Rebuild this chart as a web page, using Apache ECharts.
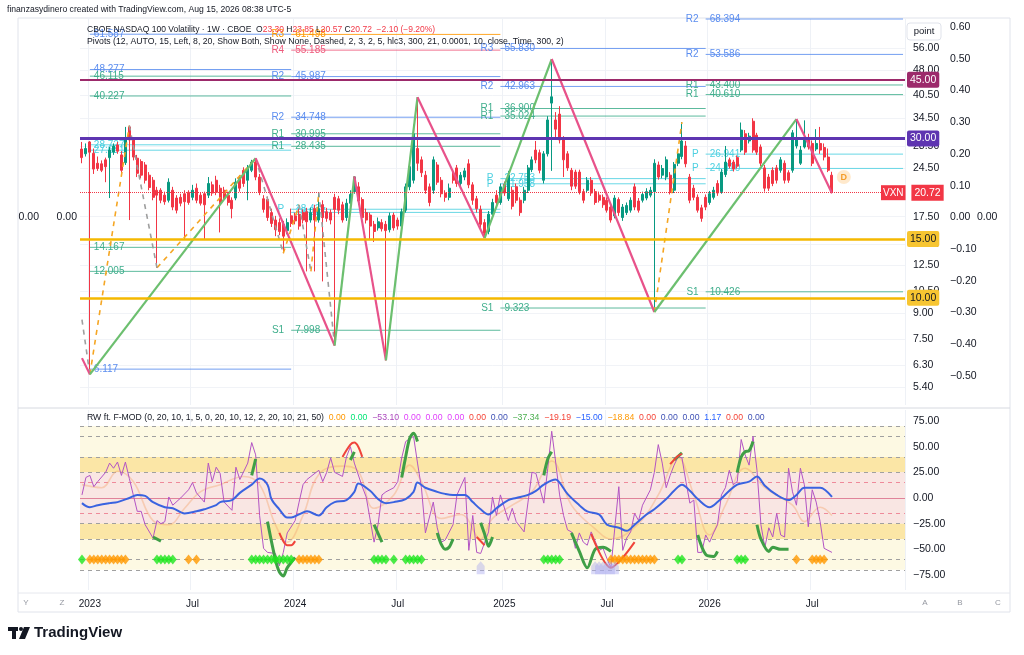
<!DOCTYPE html>
<html><head><meta charset="utf-8">
<script src="https://cdn.jsdelivr.net/npm/echarts@6/dist/echarts.min.js"></script>
<style>html,body{margin:0;padding:0;background:#fff}#c{width:1024px;height:655px}</style>
</head><body><div id="c"></div>
<script>
// ---------------- DATA ----------------
const startDate = [2022, 11, 19];   // first weekly bar (UTC y,m,d)
const totalSlots = 209;              // weekly slots visible on the time scale
// weekly candles: [open, high, low, close]
const weeklyOHLC = [
[27.9,29.3,25.3,26.3],[27.0,29.0,26.5,28.0],[29.3,29.5,5.9,27.3],[27.1,28.0,23.5,24.3],[25.3,26.5,24.0,24.4],
[25.2,25.8,23.8,24.1],[25.9,26.3,22.2,24.7],[26.3,28.3,19.9,27.7],[27.3,29.0,26.8,28.5],[28.7,29.3,27.0,27.5],
[26.8,27.5,23.5,24.1],[25.4,32.5,25.0,29.7],[32.5,32.8,17.1,29.7],[29.7,30.2,25.8,26.4],[26.2,26.8,23.0,23.6],
[25.6,26.0,22.8,23.3],[25.0,25.5,22.0,22.5],[23.3,23.8,21.0,21.4],[22.5,23.0,19.6,20.0],[21.0,21.5,12.3,20.3],
[21.0,21.3,19.2,19.6],[20.3,20.8,19.0,19.4],[19.6,22.8,19.3,22.2],[21.0,21.5,18.3,18.7],[19.9,20.3,17.9,18.3],
[20.0,20.5,18.8,19.2],[20.5,21.0,14.9,19.4],[20.7,21.0,19.0,19.3],[20.0,21.8,19.6,21.0],[21.3,22.0,19.2,19.6],
[20.3,20.6,18.9,19.2],[20.5,20.8,14.9,19.0],[20.3,23.0,19.9,22.0],[21.8,22.3,20.2,20.6],[22.5,23.2,20.3,20.7],
[21.3,21.8,15.7,19.3],[21.0,21.5,19.5,19.9],[20.3,20.8,18.9,19.3],[19.6,20.0,17.3,18.5],[19.9,22.8,19.6,22.2],
[22.8,23.3,20.8,21.3],[24.1,24.6,21.5,22.0],[22.5,25.0,19.6,24.4],[24.1,25.9,23.8,25.5],[25.5,26.2,22.5,23.0],
[23.0,23.5,20.3,20.8],[19.8,20.3,18.0,18.4],[19.7,20.1,17.0,17.4],[18.0,18.5,16.3,16.7],[17.1,17.6,15.3,16.0],
[16.8,17.3,15.4,15.8],[16.6,17.0,13.6,15.3],[15.9,17.3,15.5,16.8],[17.6,18.5,16.3,16.7],[17.6,18.0,16.6,17.0],
[17.8,18.5,16.0,16.4],[18.0,18.4,16.7,17.1],[18.1,18.6,12.0,16.9],[17.1,18.6,16.8,18.0],[18.5,19.0,12.0,17.1],
[17.1,20.7,16.8,18.5],[19.0,19.6,11.2,17.4],[18.1,18.6,16.9,17.3],[18.0,18.4,16.6,17.1],[20.0,20.5,7.2,18.4],
[19.8,20.2,17.8,18.3],[19.0,19.4,16.8,17.1],[17.4,19.8,17.0,19.2],[19.2,21.0,18.8,20.4],[20.8,23.1,20.5,23.0],
[21.5,22.2,19.0,19.5],[19.7,20.0,17.0,17.4],[18.0,18.5,16.7,17.1],[17.7,18.0,15.0,16.4],[16.6,17.0,14.7,15.8],
[16.2,17.4,15.9,16.9],[16.8,17.2,15.8,16.1],[16.6,17.0,6.5,15.9],[16.0,18.0,15.7,17.6],[17.7,18.0,15.9,16.2],
[17.1,17.4,16.0,16.4],[16.4,18.5,16.1,18.1],[18.3,22.0,18.0,21.5],[21.5,25.2,21.0,24.7],[22.5,33.0,22.0,31.0],
[28.0,39.9,24.0,25.3],[25.9,26.5,23.0,23.7],[23.3,24.0,20.5,21.0],[21.5,22.0,18.8,19.3],[21.0,26.5,20.5,25.9],
[25.0,25.5,21.8,22.2],[22.5,23.0,20.0,20.5],[20.6,21.0,19.4,20.0],[20.0,22.0,19.6,21.3],[23.5,24.0,22.0,22.5],
[24.5,25.0,21.5,22.0],[22.0,23.8,21.5,23.3],[23.0,24.5,22.5,24.0],[25.2,26.0,21.3,21.8],[21.8,22.2,19.0,19.6],
[19.8,20.2,18.0,18.5],[18.4,18.9,16.2,16.6],[16.8,17.2,15.1,15.6],[15.8,18.2,15.5,17.8],[17.8,19.8,17.4,19.3],
[20.3,21.0,18.9,19.3],[19.3,22.0,19.0,21.5],[21.9,22.3,20.2,20.6],[19.8,24.0,19.5,23.3],[21.0,21.5,18.4,18.8],
[21.5,22.0,19.2,19.6],[19.6,20.0,17.6,18.0],[19.6,21.5,19.2,21.0],[21.0,25.0,20.6,24.5],[24.2,26.5,23.8,25.9],
[27.7,29.5,25.3,25.9],[27.2,27.8,23.6,24.1],[22.5,27.5,22.0,27.0],[27.0,35.0,26.5,34.1],[38.3,51.9,24.0,40.0],
[34.1,36.0,30.0,32.0],[35.5,37.5,29.0,29.7],[29.7,30.5,23.0,25.9],[27.0,27.5,24.0,24.5],[24.1,24.5,21.0,21.6],
[23.8,24.2,21.2,21.6],[23.8,24.2,20.4,20.8],[20.8,21.2,19.2,19.6],[21.0,23.0,20.6,22.5],[22.5,23.0,20.2,20.6],
[20.8,21.2,19.0,19.3],[20.3,20.8,19.3,19.6],[20.0,20.4,18.6,19.0],[19.6,20.0,18.0,18.3],[18.7,19.0,16.8,17.1],
[17.6,20.3,17.3,19.9],[19.7,20.0,17.6,18.0],[17.4,19.1,17.0,18.7],[18.0,19.3,17.7,18.9],[18.3,20.0,18.0,19.6],
[21.5,22.0,18.3,18.7],[19.5,19.9,18.0,18.3],[19.6,20.8,19.3,20.4],[19.9,21.3,19.6,20.8],[20.3,21.5,20.0,21.0],
[20.8,26.0,9.07,25.3],[25.0,25.6,22.6,23.0],[23.3,25.0,22.8,24.4],[23.0,26.5,22.5,25.9],[23.3,23.8,20.4,20.8],
[21.0,25.5,20.6,25.1],[25.3,27.5,24.8,27.0],[26.5,33.6,26.0,29.5],[28.5,29.5,24.6,25.2],[23.0,23.5,19.2,19.6],
[21.3,21.8,19.6,20.0],[20.0,20.4,18.0,18.3],[18.6,19.0,16.9,17.3],[20.0,20.4,18.3,18.7],[19.3,20.9,19.0,20.5],
[20.0,21.5,19.7,21.0],[22.0,22.5,20.2,20.6],[20.8,24.3,20.5,23.8],[23.4,28.5,23.0,25.5],[25.9,26.3,24.4,24.8],
[25.5,25.9,23.9,24.3],[26.3,26.7,24.4,24.8],[27.7,33.5,27.3,31.8],[31.0,31.8,26.8,27.3],[29.5,31.2,29.0,30.5],
[33.8,34.5,27.2,27.7],[30.7,31.2,26.8,27.3],[28.3,28.8,24.8,25.3],[24.5,25.0,20.8,21.3],[23.0,23.5,20.9,21.3],
[24.1,24.6,21.6,22.0],[24.5,25.0,22.0,22.5],[24.1,26.4,23.7,25.9],[25.3,25.8,22.0,22.5],[23.7,24.1,22.1,22.5],
[24.1,31.8,23.7,31.2],[28.5,34.3,28.0,30.2],[25.3,28.5,25.0,27.7],[28.3,34.0,28.0,30.2],[30.2,31.0,27.8,28.3],
[29.0,29.6,24.8,25.3],[27.9,32.0,27.5,29.0],[29.0,32.5,27.0,27.7],[28.2,29.0,25.8,26.4],[26.4,28.0,23.8,24.1],
[23.30,23.85,20.57,20.72]
];
// zigzag pivots [barIndex, price]
const zigzagPivots = [[0,6.6],[2,5.9],[44,26.2],[64,7.2],[69,23.1],[77,6.5],[85,39.9],[102,15.1],[119,51.9],[145,9.07],[181,34.3],[190,20.57]];
const dashedOrangeLegs = [[[2,5.9],[12,32.8]],[[19,12.3],[44,26.2]],[[51,13.6],[55,19.0]],[[58,12.0],[60,20.7]],[[145,9.07],[152,33.6]]];
const dashedGrayLegs = [[[0,8.6],[2,5.9]],[[12,32.8],[19,12.3]],[[44,26.2],[51,13.6]],[[55,19.0],[58,12.0]],[[60,20.7],[64,7.2]]];
// horizontal levels
const levelValues = [45, 30, 15, 10];
const lastPrice = 20.72;
const dMarker = [193, 23.0];
// pivot levels: [startBar, endBar, value, name, kind]
const pivotLevels = [
[2,53,61.587,'','blue'],[2,53,48.277,'','blue'],[2,53,46.115,'','green'],[2,53,40.227,'','green'],
[2,53,28.727,'','cyan'],[2,53,27.681,'','cyan'],[2,53,14.167,'','green'],[2,53,12.005,'','green'],[2,53,6.117,'','blue'],
[53,106,61.498,'R3','orange'],[53,106,55.185,'R4','red'],[53,106,45.987,'R2','blue'],[53,106,34.748,'R2','blue'],
[53,106,30.995,'R1','green'],[53,106,28.435,'R1','green'],[53,106,18.421,'P','cyan'],[53,106,18.027,'','cyan'],[53,106,7.998,'S1','green'],
[106,158,55.830,'R3','blue'],[106,158,42.963,'R2','blue'],[106,158,36.900,'R1','green'],[106,158,35.024,'R1','green'],
[106,158,22.753,'P','cyan'],[106,158,21.958,'P','cyan'],[106,158,9.323,'S1','green'],
[158,208,68.394,'R2','blue'],[158,208,53.586,'R2','blue'],[158,208,43.400,'R1','green'],[158,208,40.610,'R1','green'],
[158,208,26.941,'P','cyan'],[158,208,24.410,'P','cyan'],[158,208,10.426,'S1','green']
];
// axis tick labels
const priceTicks = [56,48,40.5,34.5,28.5,24.5,17.5,14.5,12.5,10.5,9,7.5,6.3,5.4];
const auxTicks = [0.6,0.5,0.4,0.3,0.2,0.1,0,-0.1,-0.2,-0.3,-0.4,-0.5];
const oscTicks = [75,50,25,0,-25,-50,-75];
// oscillator pane
const fastLine = [[0,3],[1,20],[2,22],[3,11],[4,16],[6,25],[7,34],[8,29],[9,35],[10,22],[11,35],[12,19],[14,-13],[15,-13],[16,-26],[18,-39],[19,-22],[20,-25],[21,-23],[22,1],[23,-7],[25,0],[27,8],[28,15],[29,5],[31,-4],[32,34],[33,16],[34,30],[35,24],[36,-4],[38,-12],[39,30],[40,18],[42,34],[43,54],[44,42],[45,-17],[46,-49],[47,-53],[49,-54],[50,-66],[51,-53],[52,-34],[54,-22],[55,-4],[56,13],[57,18],[58,21],[60,27],[61,16],[62,25],[63,39],[64,25],[66,21],[67,40],[68,50],[69,34],[71,11],[72,1],[74,-43],[75,-26],[76,3],[77,6],[79,10],[80,16],[81,39],[82,55],[84,60],[85,34],[86,10],[87,-34],[89,-4],[90,-29],[91,-43],[92,-41],[94,-26],[95,3],[97,20],[98,-51],[99,-17],[100,-53],[101,-54],[103,-33],[104,1],[105,-17],[106,3],[108,-22],[109,-10],[110,-23],[112,-33],[113,-4],[114,25],[115,24],[117,-5],[118,29],[119,65],[120,35],[121,3],[122,-17],[123,-31],[124,-33],[125,-49],[126,-34],[127,-43],[128,-46],[129,-33],[131,-51],[132,-49],[133,-59],[134,-68],[136,11],[137,-51],[138,-39],[139,-33],[140,-15],[141,-22],[142,-7],[144,8],[145,25],[146,52],[147,34],[148,10],[149,22],[150,32],[151,40],[152,39],[153,16],[154,-5],[155,-2],[156,-53],[157,-53],[158,-36],[159,-43],[160,-34],[161,-26],[162,3],[163,10],[164,27],[165,13],[166,16],[167,57],[168,42],[169,32],[170,60],[171,27],[172,-26],[173,-48],[174,-29],[175,-38],[176,-15],[177,-36],[178,-38],[179,29],[180,6],[181,-7],[182,29],[183,13],[184,-28],[185,8],[186,-4],[187,-23],[188,-49],[190,-53]];
const slowLine = [[0,-5],[2,-9],[4,-7],[7,-5],[9,-4],[12,0],[14,3],[16,2],[18,-4],[21,-9],[23,-10],[26,-15],[29,-13],[31,-11],[34,-7],[35,-4],[38,-2],[40,5],[43,13],[45,19],[47,13],[48,-1],[50,-11],[52,-19],[53,-19],[55,-16],[57,-13],[60,-17],[62,-9],[64,-4],[67,-2],[69,6],[70,14],[73,7],[75,-1],[77,-5],[79,-4],[82,-1],[84,6],[85,15],[87,10],[90,6],[92,4],[94,3],[97,3],[99,-4],[101,-11],[103,-16],[105,-10],[108,-2],[110,0],[113,3],[115,7],[117,13],[120,18],[121,15],[123,4],[126,-7],[128,-13],[131,-16],[133,-26],[136,-29],[138,-32],[140,-26],[143,-16],[145,-11],[148,-1],[150,7],[152,13],[154,7],[156,-1],[159,-9],[161,-4],[164,7],[166,13],[169,16],[171,21],[173,12],[176,3],[179,-2],[181,3],[183,10],[186,10],[187,10],[190,1]];
const faintLine = [[0,13],[5,10],[9,26],[13,16],[18,-22],[22,-26],[26,-10],[30,6],[35,13],[41,21],[45,13],[49,-26],[52,-43],[56,-17],[60,23],[66,31],[70,26],[74,-10],[79,3],[83,32],[86,16],[91,-20],[96,-16],[101,-40],[104,-20],[109,-7],[114,6],[119,36],[124,-7],[130,-30],[134,-40],[141,-25],[146,3],[151,39],[155,3],[159,-36],[163,-7],[168,29],[173,10],[180,-7],[183,-23],[187,-9],[190,-17]];
const greenSegs = [
[[18,-38],[20,-42]],[[43,22],[44,38]],[[47,-23],[49,-60],[50,-72],[51,-76],[52,-68],[54,-58]],[[68,37],[69,45]],
[[74,-26],[76,-43]],[[81,20],[82,40],[83,58],[84,63],[85,55]],[[90,-34],[91,-45],[92,-50],[93,-48],[94,-40]],
[[101,-24],[102,-35],[103,-47],[104,-38]],[[117,22],[118,38],[119,45]],[[124,-34],[126,-52],[128,-68],[130,-50],[132,-48],[134,-52]],
[[150,37],[152,44]],[[156,-36],[158,-55],[160,-57],[161,-52]],[[166,25],[167,40],[168,45],[169,46],[170,55]],
[[171,-26],[172,-40],[174,-52],[175,-48],[177,-50],[179,-50]]
];
const redSegs = [
[[66,40],[68,52],[69,54],[70,50],[71,40]],[[50,-34],[51,-42],[52,-46],[53,-46],[54,-42]],[[100,-38],[102,-46]],
[[129,-35],[134,-68],[137,-58],[140,-43]],[[149,33],[151,41],[152,43]]
];
const diamondLevel = -60, arrowLevel = -68;
const orangeDiamonds = [2,3,4,5,6,7,8,9,10,11,27,29,55,56,57,58,59,60,134,135,136,137,138,139,140,141,142,143,144,145,181,185,186,187,188];
const greenDiamonds = [0,19,20,21,22,23,43,44,45,46,47,48,49,50,51,52,53,74,75,76,77,79,82,83,84,85,86,117,118,119,120,121,151,152,166,167,168];
const arrowBars = [101,130,131,132,133,134,135];
const legendVals = [['0.00','#ff9800'],['0.00','#00e676'],['\u221253.10','#ab47bc'],['0.00','#e040fb'],['0.00','#e040fb'],['0.00','#e040fb'],['0.00','#f44336'],['0.00','#3f51b5'],['\u221237.34','#4caf50'],['\u221219.19','#f44336'],['\u221215.00','#2962ff'],['\u221218.84','#ff9800'],['0.00','#f44336'],['0.00','#3f51b5'],['0.00','#3f51b5'],['1.17','#2962ff'],['0.00','#f44336'],['0.00','#3f51b5']];

// ---------------- BUILD ----------------
const FONT = 'Liberation Sans, Arial, sans-serif';
const cats = [];
const t0 = Date.UTC(startDate[0], startDate[1], startDate[2]);
for (let k = 0; k < totalSlots; k++) cats.push(new Date(t0 + k * 7 * 864e5).toISOString().slice(0, 10));
function isMark(idx) { const d = new Date(cats[idx]); const m = d.getUTCMonth(); return d.getUTCDate() <= 7 && (m === 0 || m === 6); }
function markText(v) { const d = new Date(v); return d.getUTCMonth() === 0 ? String(d.getUTCFullYear()) : 'Jul'; }
const minus = v => (v < 0 ? '\u2212' : '') + Math.abs(v).toFixed(2);

const pivotColors = {blue:'#5b8def', green:'#3fae8c', cyan:'#4dd0e1', orange:'#ff9800', red:'#ee5a7c'};
const PMIN = 4.777, PMAX = 68.87;
const AUXMIN = -0.5914, AUXMAX = 0.6284;

const series = [];
series.push({
  type:'candlestick', xAxisIndex:0, yAxisIndex:0, z:2, barWidth:'64%',
  data: weeklyOHLC.map(r => [r[0], r[3], r[2], r[1]]),
  itemStyle:{color:'#089981', color0:'#f23645', borderColor:'#089981', borderColor0:'#f23645', borderWidth:1},
  markLine:{
    symbol:'none', silent:true, z:6, animation:false,
    data: [
      {yAxis:levelValues[0], lineStyle:{color:'#9c2a6b', width:2, type:'solid'}, label:{backgroundColor:'#9c2a6b', color:'#fff'}},
      {yAxis:levelValues[1], lineStyle:{color:'#5e35b1', width:3, type:'solid'}, label:{backgroundColor:'#5e35b1', color:'#fff'}},
      {yAxis:levelValues[2], lineStyle:{color:'#f5b800', width:2.5, type:'solid'}, label:{backgroundColor:'#f7c531', color:'#131722'}},
      {yAxis:levelValues[3], lineStyle:{color:'#f5b800', width:2.5, type:'solid'}, label:{backgroundColor:'#f7c531', color:'#131722'}},
      {yAxis:lastPrice, lineStyle:{color:'#f23645', width:1, type:'dotted'},
        label:{formatter:() => '{a|VXN}  {b|' + lastPrice.toFixed(2) + '}', offset:[-29,0],
          rich:{a:{backgroundColor:'#f23645', color:'#fff', padding:[3,2,2,2], fontSize:10, fontFamily:FONT},
                b:{backgroundColor:'#f23645', color:'#fff', padding:[3,3,2,3], fontSize:10.5, fontFamily:FONT}}}}
    ],
    label:{show:true, position:'end', distance:2, formatter: p => p.value.toFixed(2), padding:[3,3,2,3], fontSize:10.5, fontFamily:FONT, borderRadius:2}
  }
});
// pivot levels
series.push({
  type:'custom', xAxisIndex:0, yAxisIndex:0, z:1, silent:true,
  data: pivotLevels.map(p => [p[0], p[1], p[2]]),
  encode:{x:[0,1], y:2},
  renderItem(params, api) {
    const p = pivotLevels[params.dataIndex];
    const col = pivotColors[p[4]];
    const a = api.coord([api.value(0), api.value(2)]);
    const b = api.coord([api.value(1), api.value(2)]);
    const ch = [
      {type:'line', shape:{x1:a[0], y1:a[1], x2:b[0], y2:b[1]}, style:{stroke:col, lineWidth:1, opacity:0.85}},
      {type:'text', style:{text:p[2].toFixed(3), x:a[0]+4, y:a[1], fill:col, font:'10px ' + FONT, align:'left', verticalAlign:'middle'}}
    ];
    if (p[3]) ch.push({type:'text', style:{text:p[3], x:a[0]-7, y:a[1], fill:col, font:'10px ' + FONT, align:'right', verticalAlign:'middle'}});
    return {type:'group', children:ch};
  }
});
// zigzag legs
for (let k = 0; k < zigzagPivots.length - 1; k++) {
  const a = zigzagPivots[k], b = zigzagPivots[k+1];
  series.push({type:'line', xAxisIndex:0, yAxisIndex:0, data:[a,b], symbol:'none', silent:true, z:4,
    lineStyle:{color: b[1] > a[1] ? '#6cbf6f' : '#e8528a', width:2.2}});
}
dashedOrangeLegs.forEach(l => series.push({type:'line', xAxisIndex:0, yAxisIndex:0, data:l, symbol:'none', silent:true, z:3,
  lineStyle:{color:'#f5a623', width:1.6, type:[5,5]}}));
dashedGrayLegs.forEach(l => series.push({type:'line', xAxisIndex:0, yAxisIndex:0, data:l, symbol:'none', silent:true, z:3,
  lineStyle:{color:'#9e9e9e', width:1.6, type:[5,5]}}));
series.push({type:'scatter', xAxisIndex:0, yAxisIndex:0, data:[dMarker], symbol:'circle', symbolSize:14, z:6, silent:true,
  itemStyle:{color:'#ffe3bf'}, label:{show:true, position:'inside', formatter:'D', color:'#f08a00', fontSize:9, fontWeight:'bold', fontFamily:FONT}});

// oscillator pane
const gray = {color:'#a0a0a0', width:1, type:[4,4]};
series.push({
  type:'line', xAxisIndex:1, yAxisIndex:6, data:fastLine, symbol:'none', z:4, silent:true,
  lineStyle:{color:'#b354c4', width:1},
  markArea:{silent:true, z:0, data:[
    [{yAxis:70, itemStyle:{color:'#fdf9e3'}},{yAxis:-70}],
    [{yAxis:40, itemStyle:{color:'#fbe6a6'}},{yAxis:25}],
    [{yAxis:25, itemStyle:{color:'#f9e6e3'}},{yAxis:-25}],
    [{yAxis:-25, itemStyle:{color:'#fbe6a6'}},{yAxis:-40}]
  ]},
  markLine:{symbol:'none', silent:true, label:{show:false}, z:1, data:[
    {yAxis:70, lineStyle:gray},{yAxis:60, lineStyle:gray},{yAxis:40, lineStyle:gray},{yAxis:25, lineStyle:gray},
    {yAxis:-25, lineStyle:gray},{yAxis:-40, lineStyle:gray},{yAxis:-60, lineStyle:gray},{yAxis:-70, lineStyle:gray},
    {yAxis:15, lineStyle:{color:'#ef8a9a', width:1, type:[4,4]}},{yAxis:-15, lineStyle:{color:'#ef8a9a', width:1, type:[4,4]}},
    {yAxis:0, lineStyle:{color:'#e0839a', width:1.2, type:'solid'}}
  ]}
});
series.push({type:'line', xAxisIndex:1, yAxisIndex:6, data:faintLine, symbol:'none', smooth:0.4, z:2, silent:true,
  lineStyle:{color:'rgba(245,170,120,0.45)', width:1.6}});
series.push({type:'line', xAxisIndex:1, yAxisIndex:6, data:slowLine, symbol:'none', smooth:0.35, z:5, silent:true,
  lineStyle:{color:'#3a63e0', width:2}});
greenSegs.forEach(s => series.push({type:'line', xAxisIndex:1, yAxisIndex:6, data:s, symbol:'none', smooth:0.3, z:6, silent:true,
  lineStyle:{color:'#3f9f46', width:3}}));
redSegs.forEach(s => series.push({type:'line', xAxisIndex:1, yAxisIndex:6, data:s, symbol:'none', smooth:0.3, z:6, silent:true,
  lineStyle:{color:'#f0443a', width:2}}));
series.push({type:'scatter', xAxisIndex:1, yAxisIndex:6, data:orangeDiamonds.map(i => [i, diamondLevel]), symbol:'diamond', symbolSize:[8,10], z:7, silent:true,
  itemStyle:{color:'#ff9800'}});
series.push({type:'scatter', xAxisIndex:1, yAxisIndex:6, data:greenDiamonds.map(i => [i, diamondLevel]), symbol:'diamond', symbolSize:[8,10], z:7, silent:true,
  itemStyle:{color:'#1ee61e'}});
series.push({type:'scatter', xAxisIndex:1, yAxisIndex:6, data:arrowBars.map(i => [i, arrowLevel]), symbol:'path://M5,0 L10,5 L10,14 L0,14 L0,5 Z', symbolSize:[8,13], z:7, silent:true,
  itemStyle:{color:'rgba(170,170,240,0.55)'}});

const lbl = {color:'#131722', fontSize:10.5, fontFamily:FONT};
const hid = {show:false};
const option = {
  animation:false,
  backgroundColor:'#ffffff',
  textStyle:{fontFamily:FONT},
  grid:[{left:80, right:119, top:18, height:387}, {left:80, right:119, top:410, height:180}],
  xAxis:[
    {type:'category', gridIndex:0, data:cats, boundaryGap:true, axisLine:hid, axisTick:hid, axisLabel:hid,
      splitLine:{show:true, interval:(i) => isMark(i), lineStyle:{color:'#eef1f6'}}},
    {type:'category', gridIndex:1, data:cats, boundaryGap:true, axisLine:hid, axisTick:hid,
      axisLabel:{interval:(i) => isMark(i), formatter:markText, color:'#131722', fontSize:10, fontFamily:FONT, margin:9},
      splitLine:{show:true, interval:(i) => isMark(i), lineStyle:{color:'#eef1f6'}}}
  ],
  yAxis:[
    {type:'log', gridIndex:0, position:'right', min:PMIN, max:PMAX, axisLabel:hid, axisLine:hid, axisTick:hid, splitLine:hid},
    {type:'value', gridIndex:0, position:'right', min:Math.log(PMIN), max:Math.log(PMAX), axisLine:hid,
      axisTick:{show:false, customValues:priceTicks.map(v => Math.log(v))},
      axisLabel:Object.assign({customValues:priceTicks.map(v => Math.log(v)), formatter:v => Math.exp(v).toFixed(2), margin:8}, lbl),
      splitLine:{show:true, lineStyle:{color:'#f1f3f7'}}},
    {type:'value', gridIndex:0, position:'right', offset:37, min:AUXMIN, max:AUXMAX, axisLine:hid,
      axisTick:{show:false, customValues:auxTicks}, splitLine:hid,
      axisLabel:Object.assign({customValues:auxTicks, formatter:minus, margin:8}, lbl)},
    {type:'value', gridIndex:0, position:'right', offset:64, min:AUXMIN, max:AUXMAX, axisLine:hid,
      axisTick:{show:false, customValues:[0]}, splitLine:hid,
      axisLabel:Object.assign({customValues:[0], formatter:minus, margin:8}, lbl)},
    {type:'value', gridIndex:0, position:'left', offset:0, min:AUXMIN, max:AUXMAX, axisLine:hid,
      axisTick:{show:false, customValues:[0]}, splitLine:hid,
      axisLabel:Object.assign({customValues:[0], formatter:minus, margin:3}, lbl)},
    {type:'value', gridIndex:0, position:'left', offset:38, min:AUXMIN, max:AUXMAX, axisLine:hid,
      axisTick:{show:false, customValues:[0]}, splitLine:hid,
      axisLabel:Object.assign({customValues:[0], formatter:minus, margin:3}, lbl)},
    {type:'value', gridIndex:1, position:'right', min:-89.6, max:85.7, axisLine:hid,
      axisTick:{show:false, customValues:oscTicks}, splitLine:hid,
      axisLabel:Object.assign({customValues:oscTicks, formatter:minus, margin:8}, lbl)}
  ],
  series,
  graphic:[]
};

// texts / frame
const g = option.graphic;
g.push({type:'rect', z:-1, shape:{x:18, y:18, width:992, height:594}, style:{fill:'none', stroke:'#e0e3eb', lineWidth:1}});
g.push({type:'line', z:50, shape:{x1:18, y1:408, x2:1010, y2:408}, style:{stroke:'#d6d9e0', lineWidth:1}});
g.push({type:'line', z:50, shape:{x1:18, y1:593, x2:1010, y2:593}, style:{stroke:'#e6e8ee', lineWidth:1}});
g.push({type:'text', z:100, x:7, y:10, style:{text:'finanzasydinero created with TradingView.com, Aug 15, 2026 08:38 UTC-5', fill:'#131722', font:'8.6px ' + FONT, verticalAlign:'middle'}});
g.push({type:'text', z:100, x:87, y:30, style:{
  text:'{d|CBOE NASDAQ 100 Volatility \u00b7 1W \u00b7 CBOE  O}{r|23.30}{d| H}{r|23.85}{d| L}{r|20.57}{d| C}{r|20.72  \u22122.10 (\u22129.20%)}',
  verticalAlign:'middle',
  rich:{d:{fill:'#131722', font:'8.5px ' + FONT}, r:{fill:'#f23645', font:'8.5px ' + FONT}}}});
g.push({type:'text', z:100, x:87, y:42, style:{text:'Pivots (12, AUTO, 15, Left, 8, 20, Show Both, Show None, Dashed, 2, 3, 2, 5, hlc3, 300, 21, 0.0001, 10, close, Time, 300, 2)',
  fill:'#131722', font:'8.7px ' + FONT, verticalAlign:'middle'}});
const rich = {t:{fill:'#131722', font:'8.7px ' + FONT}, s:{fill:'#131722', font:'8.7px ' + FONT}};
let txt = '{t|RW ft. F-MOD (0, 20, 10, 1, 5, 0, 20, 10, 12, 2, 20, 10, 21, 50)}';
legendVals.forEach((v, k) => { rich['c' + k] = {fill:v[1], font:'8.7px ' + FONT}; txt += '{s|  }{c' + k + '|' + v[0] + '}'; });
g.push({type:'text', z:100, x:87, y:418, style:{text:txt, rich, verticalAlign:'middle'}});
g.push({type:'rect', z:100, shape:{x:907, y:23, width:34, height:17, r:3}, style:{fill:'#fff', stroke:'#e0e3eb'}});
g.push({type:'text', z:101, x:924, y:31.5, style:{text:'point', fill:'#131722', font:'9.5px ' + FONT, align:'center', verticalAlign:'middle'}});
[['Y',26],['Z',62],['A',925],['B',960],['C',998]].forEach(p => g.push({type:'text', z:100, x:p[1], y:603,
  style:{text:p[0], fill:'#9598a1', font:'8px ' + FONT, align:'center', verticalAlign:'middle'}}));
// TradingView logo
g.push({type:'rect', z:100, shape:{x:8, y:627, width:10, height:4}, style:{fill:'#131722'}});
g.push({type:'rect', z:100, shape:{x:12, y:627, width:4, height:12}, style:{fill:'#131722'}});
g.push({type:'circle', z:100, shape:{cx:21, cy:629, r:2}, style:{fill:'#131722'}});
g.push({type:'polygon', z:100, shape:{points:[[24,627],[30,627],[25,639],[19,639]]}, style:{fill:'#131722'}});
g.push({type:'text', z:100, x:34, y:633, style:{text:'TradingView', fill:'#131722', font:'bold 15px ' + FONT, verticalAlign:'middle'}});

const chart = echarts.init(document.getElementById('c'), null, {renderer:'canvas', width:1024, height:655});
chart.setOption(option);
</script>
</body></html>
